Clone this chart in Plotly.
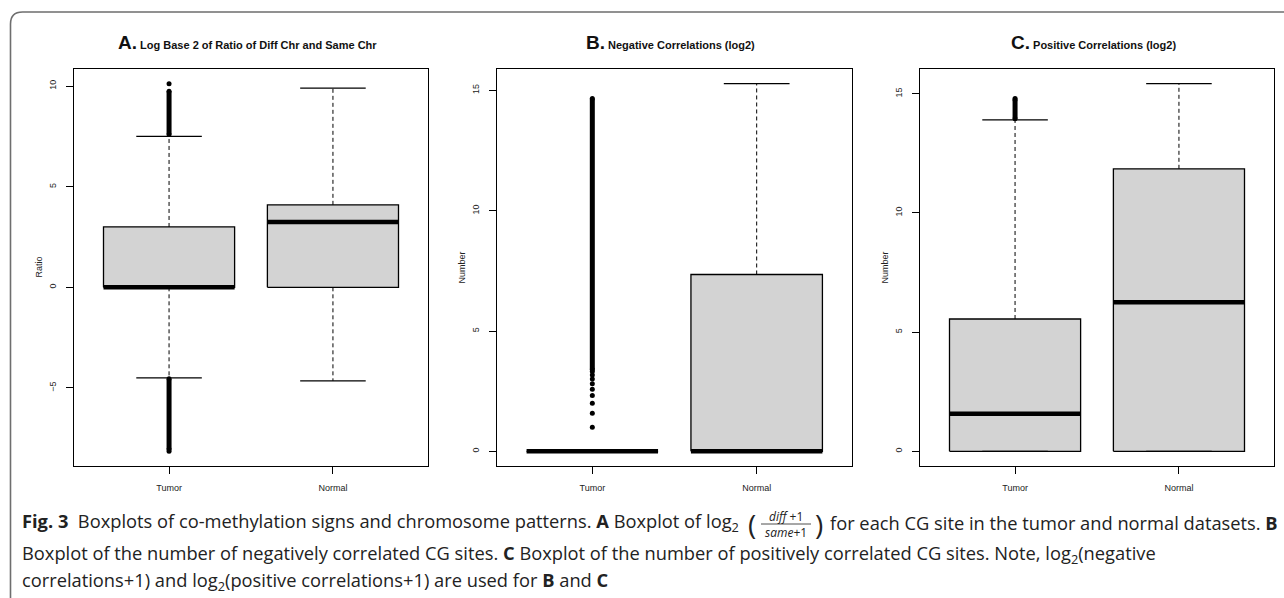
import plotly.graph_objects as go

W, H = 1284, 598

# ---------------- data ----------------
groups = ["Tumor", "Normal"]
group_pos = [1, 2]

panel_letters = ["A.", "B.", "C."]
panel_titles = ["Log Base 2 of Ratio of Diff Chr and Same Chr",
                "Negative Correlations (log2)",
                "Positive Correlations (log2)"]
y_labels = ["Ratio", "Number", "Number"]
y_ticks = [[-5, 0, 5, 10], [0, 5, 10, 15], [0, 5, 10, 15]]

# Panel A: log2((diff+1)/(same+1))     [Tumor, Normal]
a_lower = [-4.5, -4.65]
a_q1 = [0.0, 0.0]
a_median = [0.0, 3.25]
a_q3 = [3.0, 4.1]
a_upper = [7.5, 9.9]
a_out_points = [[10.12, -8.15], []]
a_out_runs = [[(7.6, 9.75), (-4.55, -8.05)], []]

# Panel B: log2(negative correlations + 1)
b_lower = [0.0, 0.0]
b_q1 = [0.0, 0.0]
b_median = [0.0, 0.0]
b_q3 = [0.0, 7.35]
b_upper = [0.0, 15.28]
b_out_points = [[1.0, 1.58, 2.0, 2.32, 2.58, 2.81, 3.0, 3.17, 3.32], []]
b_out_runs = [[(3.4, 14.66)], []]

# Panel C: log2(positive correlations + 1)
c_lower = [0.0, 0.0]
c_q1 = [0.0, 0.0]
c_median = [1.58, 6.25]
c_q3 = [5.55, 11.85]
c_upper = [13.9, 15.42]
c_out_points = [[14.8], []]
c_out_runs = [[(13.95, 14.75)], []]

panels = [
    dict(lo=a_lower, q1=a_q1, med=a_median, q3=a_q3, hi=a_upper, pts=a_out_points, runs=a_out_runs),
    dict(lo=b_lower, q1=b_q1, med=b_median, q3=b_q3, hi=b_upper, pts=b_out_points, runs=b_out_runs),
    dict(lo=c_lower, q1=c_q1, med=c_median, q3=c_q3, hi=c_upper, pts=c_out_points, runs=c_out_runs),
]

# ---------------- layout geometry (pixels) ----------------
frames_x = [(74, 428), (497, 852), (920, 1274)]
frame_top, frame_bot = 69, 466

BOX_HALF = 0.4
STAPLE_HALF = 0.2
FILL = "#d3d3d3"


def px(x):
    return x / W


def py(y):
    return 1 - y / H


fig = go.Figure()

for i, p in enumerate(panels):
    xa = "x" if i == 0 else f"x{i+1}"
    ya = "y" if i == 0 else f"y{i+1}"
    for g, pos in enumerate(group_pos):
        lo, q1, med, q3, hi = p["lo"][g], p["q1"][g], p["med"][g], p["q3"][g], p["hi"][g]
        common = dict(xaxis=xa, yaxis=ya, showlegend=False, hoverinfo="skip")
        # box body
        fig.add_trace(go.Scatter(
            x=[pos - BOX_HALF, pos + BOX_HALF, pos + BOX_HALF, pos - BOX_HALF, pos - BOX_HALF],
            y=[q1, q1, q3, q3, q1], mode="lines", fill="toself", fillcolor=FILL,
            line=dict(color="black", width=1.3), **common))
        # whiskers (dashed)
        fig.add_trace(go.Scatter(
            x=[pos, pos, None, pos, pos], y=[q3, hi, None, q1, lo], mode="lines",
            line=dict(color="black", width=1, dash="4px,3px"), **common))
        # staples
        fig.add_trace(go.Scatter(
            x=[pos - STAPLE_HALF, pos + STAPLE_HALF, None, pos - STAPLE_HALF, pos + STAPLE_HALF],
            y=[hi, hi, None, lo, lo], mode="lines",
            line=dict(color="black", width=1.3), **common))
        # median
        fig.add_trace(go.Scatter(
            x=[pos - BOX_HALF, pos + BOX_HALF], y=[med, med], mode="lines",
            line=dict(color="black", width=4.5), **common))
        # dense outlier runs
        for (r0, r1) in p["runs"][g]:
            fig.add_trace(go.Scatter(
                x=[pos, pos], y=[r0, r1], mode="lines+markers",
                line=dict(color="black", width=5),
                marker=dict(color="black", size=5), **common))
        if p["pts"][g]:
            fig.add_trace(go.Scatter(
                x=[pos] * len(p["pts"][g]), y=p["pts"][g], mode="markers",
                marker=dict(color="black", size=5), **common))

layout = dict(
    width=W, height=H, margin=dict(l=0, r=0, t=0, b=0),
    paper_bgcolor="white", plot_bgcolor="white", showlegend=False,
)

annotations = []
shapes = []
FONT_R = "Liberation Sans Narrow, Liberation Sans, Arial"
tick_font = dict(family=FONT_R, size=9, color="#222")

for i, p in enumerate(panels):
    sfx = "" if i == 0 else str(i + 1)
    allv = p["lo"] + p["hi"] + [v for lst in p["pts"] for v in lst] + \
        [v for lst in p["runs"] for r in lst for v in r]
    vmin, vmax = min(allv), max(allv)
    pad = 0.04 * (vmax - vmin)
    x0, x1 = frames_x[i]
    layout["xaxis" + sfx] = dict(
        domain=[px(x0), px(x1)], range=[0.5 - 0.08, 2.5 + 0.08],
        tickvals=group_pos, ticktext=groups, ticks="outside", ticklen=7, tickwidth=1,
        tickcolor="black", showline=True, mirror=True, linecolor="black", linewidth=1.2,
        showgrid=False, zeroline=False, tickfont=tick_font, ticklabelstandoff=6,
        anchor="y" + sfx, fixedrange=True)
    layout["yaxis" + sfx] = dict(
        domain=[py(frame_bot), py(frame_top)], range=[vmin - pad, vmax + pad],
        tickvals=y_ticks[i], ticks="outside", ticklen=7, tickwidth=1, tickcolor="black",
        tickangle=-90, showline=True, mirror=True, linecolor="black", linewidth=1.2,
        showgrid=False, zeroline=False, tickfont=tick_font, ticklabelstandoff=6,
        anchor="x" + sfx, fixedrange=True)
    cx = (x0 + x1) / 2
    annotations.append(dict(
        x=px(cx - 4), y=py(43), xref="paper", yref="paper", xanchor="center", yanchor="middle",
        showarrow=False,
        text=f"<b><span style='font-size:19px'>{panel_letters[i]}</span></b> <b>{panel_titles[i]}</b>",
        font=dict(family=FONT_R, size=11, color="#111")))
    annotations.append(dict(
        x=px(x0 - 36), y=py((frame_top + frame_bot) / 2), xref="paper", yref="paper",
        xanchor="center", yanchor="middle", textangle=-90, showarrow=False,
        text=y_labels[i], font=dict(family=FONT_R, size=9, color="#222")))

# caption
CAP = "Open Sans, Noto Sans, sans-serif"
cap_font = dict(family=CAP, size=18.3, color="#222")
annotations.append(dict(
    x=px(20), y=py(522), xref="paper", yref="paper", xanchor="left", yanchor="middle",
    showarrow=False, font=cap_font,
    text="<b>Fig. 3</b>  Boxplots of co-methylation signs and chromosome patterns. <b>A</b> Boxplot of log<sub>2</sub>"))
annotations.append(dict(
    x=px(752), y=py(524), xref="paper", yref="paper", xanchor="center", yanchor="middle",
    showarrow=False, font=dict(family=CAP, size=28, color="#222"), text="("))
annotations.append(dict(
    x=px(819), y=py(524), xref="paper", yref="paper", xanchor="center", yanchor="middle",
    showarrow=False, font=dict(family=CAP, size=28, color="#222"), text=")"))
annotations.append(dict(
    x=px(786), y=py(516), xref="paper", yref="paper", xanchor="center", yanchor="middle",
    showarrow=False, font=dict(family=CAP, size=12, color="#222"),
    text="<i>diff</i> +1"))
annotations.append(dict(
    x=px(786), y=py(532), xref="paper", yref="paper", xanchor="center", yanchor="middle",
    showarrow=False, font=dict(family=CAP, size=12, color="#222"),
    text="<i>same</i>+1"))
shapes.append(dict(type="line", xref="paper", yref="paper", x0=px(761), x1=px(811),
                   y0=py(524), y1=py(524), line=dict(color="#222", width=0.8)))
annotations.append(dict(
    x=px(1280), y=py(522), xref="paper", yref="paper", xanchor="right", yanchor="middle",
    showarrow=False, font=cap_font,
    text="for each CG site in the tumor and normal datasets. <b>B</b>"))
annotations.append(dict(
    x=px(20), y=py(554), xref="paper", yref="paper", xanchor="left", yanchor="middle",
    showarrow=False, font=cap_font,
    text="Boxplot of the number of negatively correlated CG sites. <b>C</b> Boxplot of the number of positively correlated CG sites. Note, log<sub>2</sub>(negative"))
annotations.append(dict(
    x=px(20), y=py(581), xref="paper", yref="paper", xanchor="left", yanchor="middle",
    showarrow=False, font=cap_font,
    text="correlations+1) and log<sub>2</sub>(positive correlations+1) are used for <b>B</b> and <b>C</b>"))

# rounded frame (top-left corner)
bx, by, rad = 10.5, 12, 12
path = (f"M {px(bx)},{py(H + 2)} L {px(bx)},{py(by + rad)} "
        f"Q {px(bx)},{py(by)} {px(bx + rad)},{py(by)} L {px(W + 2)},{py(by)}")
shapes.append(dict(type="path", xref="paper", yref="paper", path=path,
                   line=dict(color="#6e6e6e", width=1.6)))

layout["annotations"] = annotations
layout["shapes"] = shapes
fig.update_layout(**layout)
fig.write_html("out.html", config={"displayModeBar": False},
               post_script="document.body.style.margin='0';document.body.style.overflow='hidden';")
